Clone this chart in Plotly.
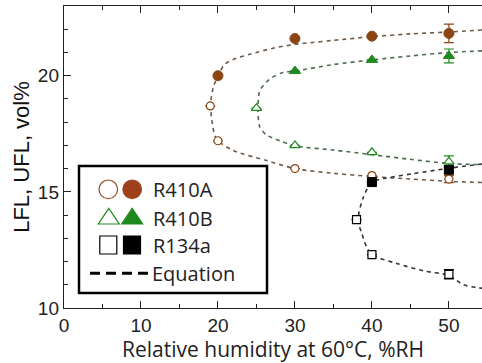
import plotly.graph_objects as go

# ---------------- data ----------------
# R410A
a_fill_x = [20, 30, 40, 50]
a_fill_y = [20.0, 21.6, 21.7, 21.82]
a_fill_err = [None, None, None, 0.4]
a_open_x = [19, 20, 30, 40, 50]
a_open_y = [18.7, 17.2, 16.0, 15.7, 15.55]
a_open_err = [None, None, None, None, 0.15]
a_eq_x = [54.3, 50, 45, 40, 35, 32.3, 30, 27.4, 24.2, 22, 20.9, 20, 19.4, 19.05, 19.2, 19.8, 22, 26.3, 30, 35, 40, 45, 50, 54.3]
a_eq_y = [21.97, 21.88, 21.8, 21.68, 21.52, 21.43, 21.35, 21.2, 20.93, 20.7, 20.5, 20.0, 19.5, 18.8, 18.1, 17.28, 16.78, 16.35, 16.0, 15.8, 15.66, 15.55, 15.45, 15.4]

# R410B
b_fill_x = [30, 40, 50]
b_fill_y = [20.2, 20.68, 20.85]
b_fill_err = [None, None, 0.3]
b_open_x = [25, 30, 40, 50]
b_open_y = [18.6, 17.0, 16.7, 16.3]
b_open_err = [None, None, None, 0.25]
b_eq_x = [54.3, 50, 45, 40, 35, 30, 28.45, 26.75, 25.45, 25.2, 25.45, 26.3, 28.05, 30, 35, 40, 45, 50, 54.3]
b_eq_y = [21.07, 21.0, 20.85, 20.68, 20.48, 20.2, 20.14, 19.86, 19.36, 18.64, 17.78, 17.45, 17.2, 16.98, 16.8, 16.6, 16.4, 16.22, 16.17]

# R134a
c_fill_x = [40, 50]
c_fill_y = [15.42, 15.95]
c_fill_err = [None, 0.15]
c_open_x = [38, 40, 50]
c_open_y = [13.8, 12.3, 11.45]
c_open_err = [None, None, 0.2]
c_eq_x = [54.3, 49.7, 45.3, 41.5, 40, 38.9, 38.2, 38.7, 39.3, 40, 43.2, 46.7, 50, 51.9, 54.3]
c_eq_y = [16.2, 16.0, 15.78, 15.57, 15.42, 14.78, 13.78, 13.2, 12.63, 12.3, 11.92, 11.6, 11.4, 11.0, 10.85]

x_ticks = [0, 10, 20, 30, 40, 50]
y_ticks = [10, 15, 20]
legend_names = ["R410A", "R410B", "R134a", "Equation"]

BROWN = "#8B4513"
GREEN = "#1E8A1E"
BLACK = "#000000"
AXIS = "#222222"

fig = go.Figure()

# equation curves
for xs, ys, col in [(a_eq_x, a_eq_y, "#6e5a48"), (b_eq_x, b_eq_y, "#4f6b4f"), (c_eq_x, c_eq_y, "#333333")]:
    fig.add_trace(go.Scatter(x=xs, y=ys, mode="lines", line=dict(color=col, width=1.6, dash="4px,4px", shape="spline", smoothing=0.8),
                             showlegend=False, hoverinfo="skip"))

def pts(xs, ys, err, symbol, col, size, filled):
    return go.Scatter(
        x=xs, y=ys, mode="markers", showlegend=False,
        marker=dict(symbol=symbol, size=size, color=col if filled else "white",
                    line=dict(color=col, width=1.0 if filled else 1.2)),
        error_y=dict(type="data", array=err, visible=True, color=col, thickness=1.2, width=5),
    )

fig.add_trace(pts(a_open_x, a_open_y, a_open_err, "circle", BROWN, 8, False))
fig.add_trace(pts(b_open_x, b_open_y, b_open_err, "triangle-up", GREEN, 9, False))
fig.add_trace(pts(c_open_x, c_open_y, c_open_err, "square", BLACK, 8, False))
fig.add_trace(pts(a_fill_x, a_fill_y, a_fill_err, "circle", BROWN, 10, True))
fig.add_trace(pts(b_fill_x, b_fill_y, b_fill_err, "triangle-up", GREEN, 10, True))
fig.add_trace(pts(c_fill_x, c_fill_y, c_fill_err, "square", BLACK, 9, True))

# ---------------- custom legend (pixel -> paper helpers) ----------------
L, R, T, B = 64, 482, 6, 308
def px(v):
    return (v - L) / (R - L)
def py(v):
    return (B - v) / (B - T)

shapes = []
annotations = []
shapes.append(dict(type="rect", xref="paper", yref="paper", x0=px(79), x1=px(267), y0=py(293), y1=py(166),
                   line=dict(color="black", width=2.5), fillcolor="white", layer="above"))
# circles
for cx, filled in [(108.3, False), (132.2, True)]:
    shapes.append(dict(type="circle", xref="paper", yref="paper", x0=px(cx - 9.3), x1=px(cx + 9.3), y0=py(189.3 + 9.3), y1=py(189.3 - 9.3),
                       line=dict(color="#9a4a22", width=1.2), fillcolor="#a0401a" if filled else "white", layer="above"))
# triangles
for cx, filled in [(108.8, False), (132.2, True)]:
    p = "M {} {} L {} {} L {} {} Z".format(px(cx - 10.5), py(224), px(cx + 10.5), py(224), px(cx), py(208.3))
    shapes.append(dict(type="path", xref="paper", yref="paper", path=p,
                       line=dict(color=GREEN, width=1.2), fillcolor=GREEN if filled else "white", layer="above"))
# squares
for cx, filled in [(108.3, False), (132, True)]:
    shapes.append(dict(type="rect", xref="paper", yref="paper", x0=px(cx - 8.5), x1=px(cx + 8.5), y0=py(254), y1=py(236),
                       line=dict(color="black", width=1.2), fillcolor="black" if filled else "white", layer="above"))
# dashed line
shapes.append(dict(type="line", xref="paper", yref="paper", x0=px(90), x1=px(149), y0=py(273.3), y1=py(273.3),
                   line=dict(color="black", width=3, dash="10px,6px"), layer="above"))

for name, yc in zip(legend_names, [189.3, 218, 245.5, 273.3]):
    annotations.append(dict(text=name, xref="paper", yref="paper", x=px(151 if name != "Equation" else 150), y=py(yc),
                            xanchor="left", yanchor="middle", showarrow=False,
                            font=dict(family="Open Sans", size=20, color="#222")))

fig.update_layout(
    width=482, height=363,
    margin=dict(l=64, r=0, t=6, b=55),
    paper_bgcolor="white", plot_bgcolor="white",
    shapes=shapes, annotations=annotations,
    xaxis=dict(range=[0, 54.3], tickvals=x_ticks, ticks="inside", ticklen=7, tickwidth=1.2, tickcolor=AXIS,
               minor=dict(dtick=5, tick0=0, ticks="inside", ticklen=4, tickcolor=AXIS),
               showline=True, linecolor=AXIS, linewidth=1.4, mirror="ticks",
               showgrid=False, zeroline=False,
               tickfont=dict(family="Liberation Sans", size=19, color="#222"),
               title=dict(text="Relative humidity at 60°C, %RH", font=dict(family="Open Sans", size=21, color="#222"), standoff=3)),
    yaxis=dict(range=[10, 23], tickvals=y_ticks, ticks="inside", ticklen=7, tickwidth=1.2, tickcolor=AXIS,
               minor=dict(dtick=1, tick0=10, ticks="inside", ticklen=4, tickcolor=AXIS),
               showline=True, linecolor=AXIS, linewidth=1.4, mirror=False,
               showgrid=False, zeroline=False,
               tickfont=dict(family="Liberation Sans", size=19, color="#222"),
               title=dict(text="LFL, UFL, vol%", font=dict(family="Liberation Sans", size=22, color="#111"), standoff=2)),
)

fig.write_html("out.html")
